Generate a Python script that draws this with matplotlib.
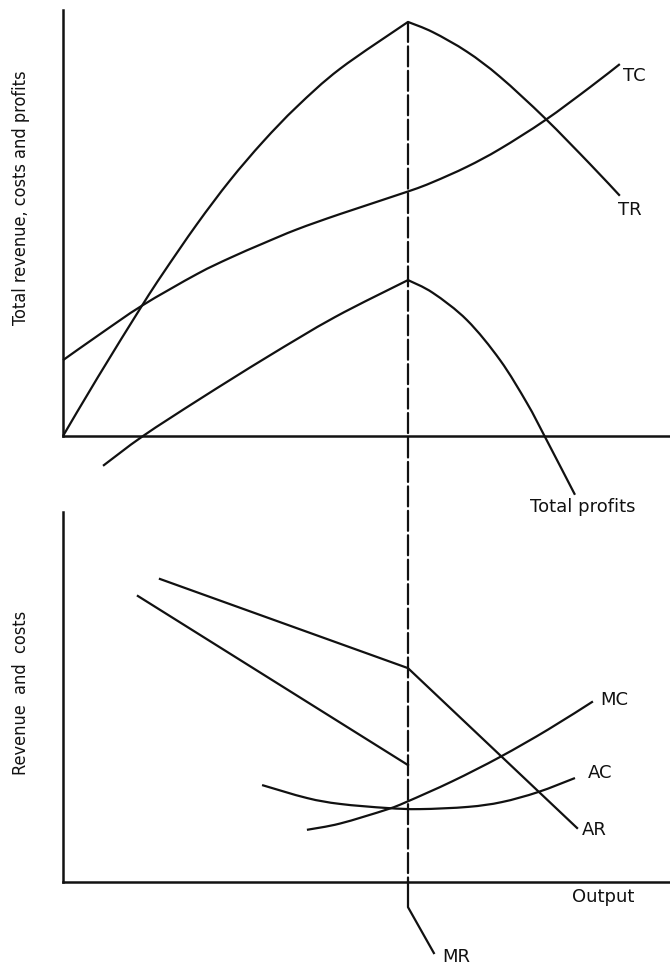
import matplotlib
matplotlib.use("Agg")
import matplotlib.pyplot as plt
from matplotlib.patches import ConnectionPatch, PathPatch
from matplotlib.path import Path

# ---------------- data (output units, value units) ----------------
q_star = 100.0

# upper panel: totals (TR and total profits have a kink at q_star)
tr_left_x = [0, 10.1, 22.9, 29.0, 38.8, 48.4, 58.0, 67.8, 80.3, 100]
tr_left_y = [0, 13.8, 30.6, 38.2, 49.7, 60.0, 69.1, 77.3, 86.2, 97.2]
tr_right_x = [100, 107.2, 117.1, 126.7, 139.7, 152.8, 161.4]
tr_right_y = [97.2, 94.8, 90.2, 84.3, 74.6, 63.8, 56.4]

tc_x = [0, 10.7, 22.9, 38.8, 48.4, 58.0, 67.8, 80.3, 100, 107.2, 117.1, 126.7, 139.7, 152.8, 161.4]
tc_y = [17.8, 23.9, 30.6, 38.0, 41.8, 45.2, 48.5, 52.1, 57.4, 59.6, 63.2, 67.4, 74.1, 81.9, 87.3]

tp_left_x = [11.6, 23.2, 39.7, 59.1, 78.8, 100]
tp_left_y = [-7.0, 0.0, 8.7, 18.5, 27.9, 36.6]
tp_right_x = [100, 107.2, 117.1, 126.7, 134.5, 139.7, 148.4]
tp_right_y = [36.6, 33.6, 27.2, 17.8, 7.7, -0.2, -13.8]

# lower panel: averages and marginals
ar_x = [28.1, 100, 149.0]
ar_y = [81.9, 57.8, 14.6]

mr_upper_x = [21.7, 100]
mr_upper_y = [77.3, 31.6]
mr_lower_x = [100, 100, 107.5]
mr_lower_y = [0, -6.8, -19.2]

ac_x = [57.7, 70.7, 80.3, 93.9, 103.5, 117.4, 127.2, 137.7, 148.4]
ac_y = [26.2, 22.7, 21.1, 20.0, 19.7, 20.3, 21.6, 24.3, 28.1]

mc_x = [70.7, 80.3, 93.9, 99.7, 112.8, 126.7, 140.6, 153.6]
mc_y = [14.1, 15.8, 19.6, 21.7, 27.2, 33.8, 41.2, 48.8]

top_labels = ["TC", "TR", "Total profits"]
bottom_labels = ["MC", "AC", "AR", "Output", "MR"]
ylabel_top = "Total revenue, costs and profits"
ylabel_bottom = "Revenue  and  costs"

# ---------------- figure ----------------
W, H = 670, 965
fig = plt.figure(figsize=(W / 100, H / 100), dpi=100)
fig.patch.set_facecolor("white")

XMIN, XMAX = -63 / 3.45, 607 / 3.45
ax_top = fig.add_axes([0, 1 - 520 / H, 1, 520 / H])
ax_top.set_xlim(XMIN, XMAX)
ax_top.set_ylim((436 - 520) / 4.26, 436 / 4.26)

ax_bot = fig.add_axes([0, 0, 1, 465 / H])
ax_bot.set_xlim(XMIN, XMAX)
ax_bot.set_ylim((882 - 965) / 3.7, (882 - 500) / 3.7)

col = "#111111"
for ax in (ax_top, ax_bot):
    ax.patch.set_visible(False)
    ax.spines[["top", "right"]].set_visible(False)
    ax.spines["left"].set_position(("data", 0))
    ax.spines["bottom"].set_position(("data", 0))
    ax.spines["left"].set_bounds(0, 100)
    ax.spines["bottom"].set_bounds(0, XMAX)
    for s in ("left", "bottom"):
        ax.spines[s].set_linewidth(1.8)
        ax.spines[s].set_color(col)
    ax.set_xticks([])
    ax.set_yticks([])

lw = 1.6


def smooth_curve(ax, xs, ys):
    """Draw a smooth curve through the given points (Catmull-Rom as Bezier path)."""
    pts = list(zip(xs, ys))
    n = len(pts)
    verts = [pts[0]]
    codes = [Path.MOVETO]
    for i in range(n - 1):
        p0 = pts[i - 1] if i > 0 else pts[i]
        p1 = pts[i]
        p2 = pts[i + 1]
        p3 = pts[i + 2] if i + 2 < n else pts[i + 1]
        c1 = (p1[0] + (p2[0] - p0[0]) / 6, p1[1] + (p2[1] - p0[1]) / 6)
        c2 = (p2[0] - (p3[0] - p1[0]) / 6, p2[1] - (p3[1] - p1[1]) / 6)
        verts += [c1, c2, p2]
        codes += [Path.CURVE4] * 3
    ax.add_patch(PathPatch(Path(verts, codes), facecolor="none",
                           edgecolor=col, lw=lw, capstyle="butt"))


smooth_curve(ax_top, tr_left_x, tr_left_y)
smooth_curve(ax_top, tr_right_x, tr_right_y)
smooth_curve(ax_top, tc_x, tc_y)
smooth_curve(ax_top, tp_left_x, tp_left_y)
smooth_curve(ax_top, tp_right_x, tp_right_y)

ax_bot.plot(ar_x, ar_y, color=col, lw=lw)
ax_bot.plot(mr_upper_x, mr_upper_y, color=col, lw=lw)
ax_bot.plot(mr_lower_x, mr_lower_y, color=col, lw=lw)
smooth_curve(ax_bot, ac_x, ac_y)
smooth_curve(ax_bot, mc_x, mc_y)

# dashed profit-maximising output line spanning both panels
con = ConnectionPatch(xyA=(q_star, max(tr_left_y)), coordsA=ax_top.transData,
                      xyB=(q_star, 0), coordsB=ax_bot.transData,
                      color=col, lw=1.6, linestyle=(0, (9, 2.0)))
fig.add_artist(con)

fs = 13
lab_font = dict(family="DejaVu Sans", fontsize=fs, color=col, ha="left", va="center")
ax_top.text(162.3, 84.5, top_labels[0], **lab_font)
ax_top.text(160.9, 53.1, top_labels[1], **lab_font)
ax_top.text(135.4, -16.7, top_labels[2], **lab_font)

ax_bot.text(155.7, 49.2, bottom_labels[0], **lab_font)
ax_bot.text(152.2, 29.5, bottom_labels[1], **lab_font)
ax_bot.text(150.4, 14.1, bottom_labels[2], **lab_font)
ax_bot.text(147.5, -4.1, bottom_labels[3], **lab_font)
ax_bot.text(109.9, -20.3, bottom_labels[4], **lab_font)

yl_font = dict(family="DejaVu Sans", fontstretch="condensed", fontsize=13,
               color=col, rotation=90, ha="center", va="center")
fig.text(21 / W, 1 - 198 / H, ylabel_top, **yl_font)
fig.text(21 / W, 1 - 693 / H, ylabel_bottom, **yl_font)

fig.savefig("out.png", dpi=100, facecolor="white")
